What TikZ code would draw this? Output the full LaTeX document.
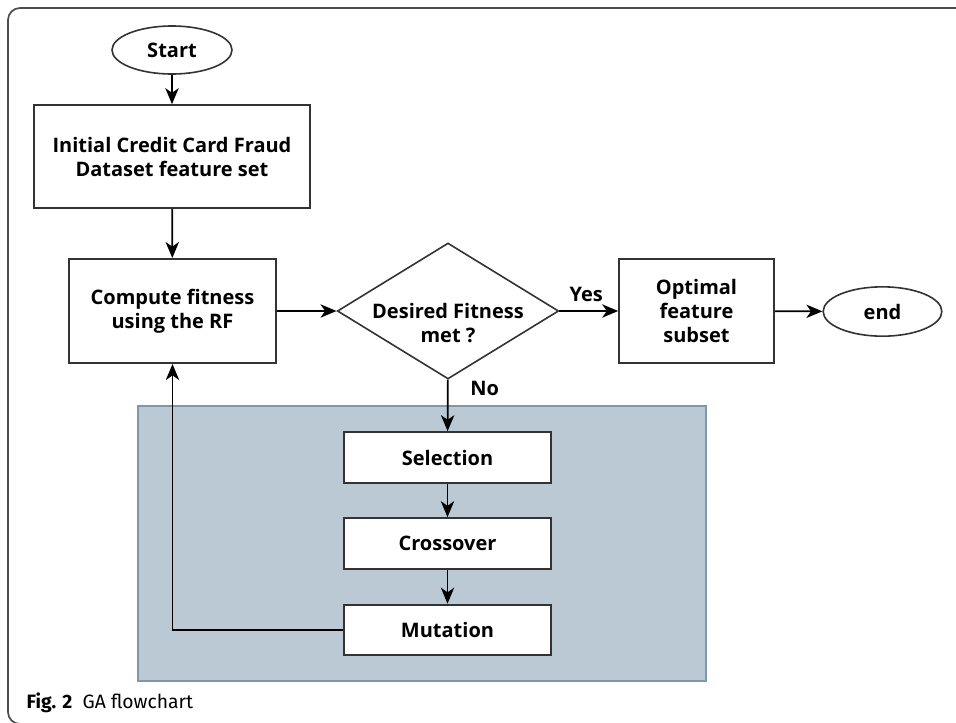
\documentclass[tikz,border=0pt]{standalone}
\usepackage{fontspec}
\setmainfont{Open Sans}
\newfontfamily\capfont{Fira Sans}
\usetikzlibrary{shapes.geometric,arrows.meta}
\definecolor{panelfill}{HTML}{BBC9D4}
\definecolor{paneledge}{HTML}{7F97AC}
\definecolor{boxedge}{HTML}{333333}
\tikzset{
    every node/.style={font=\bfseries\fontsize{15}{18}\selectfont,align=center},
    procbox/.style={draw=boxedge,line width=1.5pt,fill=white,inner sep=0pt},
    termbox/.style={ellipse,draw=boxedge,line width=1.2pt,inner sep=0pt},
    arr/.style={line width=1.3pt,-{Stealth[length=12pt,width=10pt,inset=3.5pt]}}
}
\begin{document}
\begin{tikzpicture}[x=0.75pt,y=-0.75pt]
    \useasboundingbox (0,0) rectangle (956,722);
    \draw[gray!60!black,line width=1.3pt,rounded corners=9pt] (956,8) -- (8,8) -- (8,724) -- (40,724);
    \draw[fill=panelfill,draw=paneledge,line width=1pt] (138,406) rectangle (706,681);

    \node[termbox,minimum width=90pt,minimum height=36pt] (start) at (172,50) {Start};
    \node[procbox,minimum width=207pt,minimum height=77pt] (init) at (172,156.5) {Initial Credit Card Fraud\\Dataset feature set};
    \node[procbox,minimum width=155pt,minimum height=78pt] (fit) at (172.5,311) {Compute fitness\\using the RF};
    \node[diamond,draw=boxedge,line width=1.2pt,inner sep=0pt,minimum width=166pt,minimum height=102pt] (desire) at (448,311) {};
    \node (desiretext) at ([yshift=-9pt]desire.center) {Desired Fitness\\met ?};
    \node[procbox,minimum width=116pt,minimum height=78pt] (optimal) at (696.5,311) {Optimal\\feature\\subset};
    \node[termbox,minimum width=89pt,minimum height=37pt] (finish) at (882.5,311.5) {end};

    \node[procbox,minimum width=155pt,minimum height=38pt] (select) at (447.5,457.5) {Selection};
    \node[procbox,minimum width=155pt,minimum height=38pt] (cross) at (447.5,543.5) {Crossover};
    \node[procbox,minimum width=155pt,minimum height=38pt] (mutate) at (447.5,630) {Mutation};

    \draw[arr] (start) -- (init);
    \draw[arr] (init) -- (fit);
    \draw[arr] (fit) -- (desire);
    \draw[arr] (desire) -- node[above,yshift=3pt,xshift=-2pt] {Yes} (optimal);
    \draw[arr] (optimal) -- (finish);
    \draw[arr] (desire) -- node[pos=0.18,right=13pt] {No} (select);
    \draw[arr] (select) -- (cross);
    \draw[arr] (cross) -- (mutate);
    \draw[arr] (mutate.west) -| (fit.south);

    \node[anchor=west,font=\capfont\fontsize{14.5}{16}\selectfont] (caption) at (22,703) {\textbf{Fig. 2}\ \ GA flowchart};
\end{tikzpicture}
\end{document}
